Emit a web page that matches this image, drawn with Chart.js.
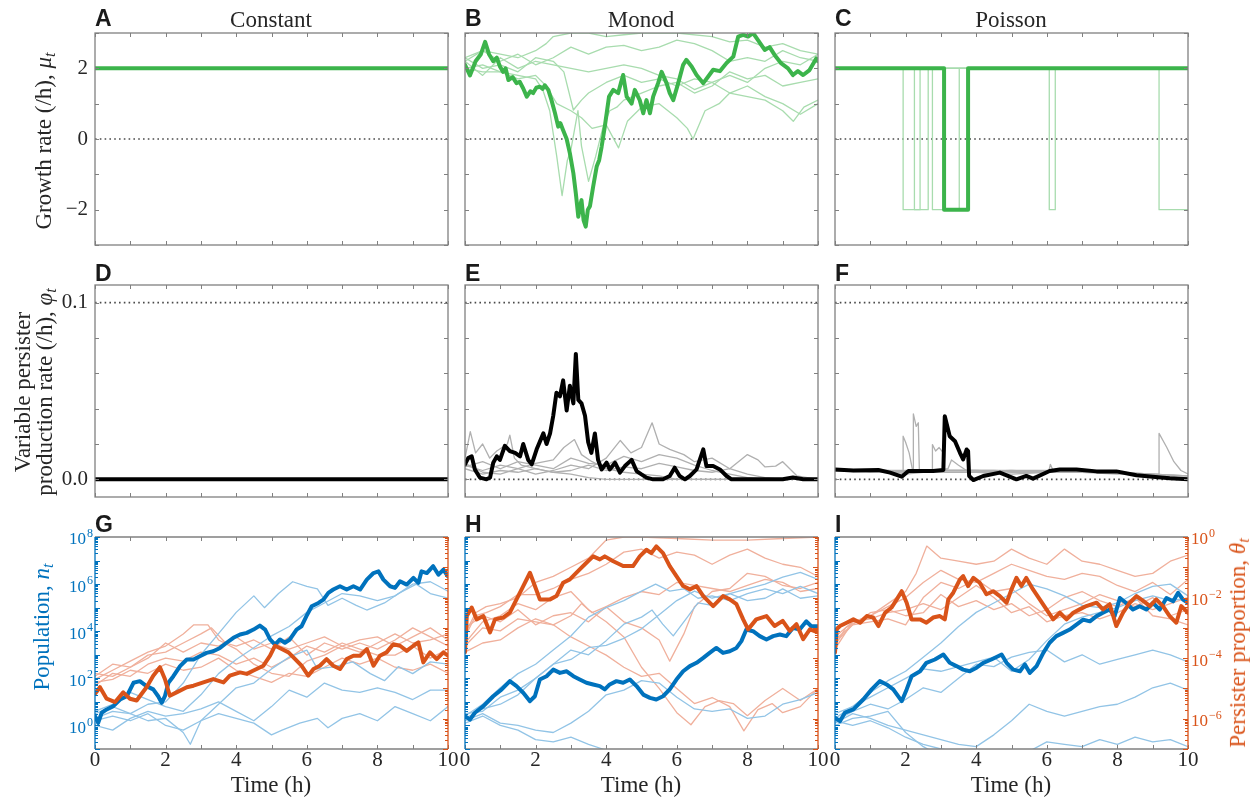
<!DOCTYPE html>
<html>
<head>
<meta charset="utf-8">
<script src="https://cdn.jsdelivr.net/npm/chart.js@4.4.1/dist/chart.umd.min.js"></script>
<style>
body{margin:0;background:#fff;width:1260px;height:801px;overflow:hidden;position:relative;font-family:"Liberation Serif",serif;color:#262626}
canvas{position:absolute;left:0;top:0}
.t{position:absolute;white-space:nowrap;font-size:23px;line-height:1}
.lt{position:absolute;font-family:"Liberation Sans",Arial,sans-serif;font-weight:bold;font-size:23px;color:#1a1a1a;line-height:1}
.rot{transform:translate(-50%,-50%) rotate(-90deg);text-align:center}
.ctr{transform:translateX(-50%)}
sub{font-size:70%;vertical-align:-0.25em}
</style>
</head>
<body>
<div class="lt" style="left:95px;top:7px">A</div>
<div class="lt" style="left:465px;top:7px">B</div>
<div class="lt" style="left:835px;top:7px">C</div>
<div class="lt" style="left:95px;top:262px">D</div>
<div class="lt" style="left:465px;top:262px">E</div>
<div class="lt" style="left:835px;top:262px">F</div>
<div class="lt" style="left:95px;top:513px">G</div>
<div class="lt" style="left:465px;top:513px">H</div>
<div class="lt" style="left:835px;top:513px">I</div>
<div class="t ctr" style="left:271px;top:8px">Constant</div>
<div class="t ctr" style="left:641px;top:8px">Monod</div>
<div class="t ctr" style="left:1011px;top:8px">Poisson</div>
<div class="t ctr" style="left:271px;top:773px">Time (h)</div>
<div class="t ctr" style="left:641px;top:773px">Time (h)</div>
<div class="t ctr" style="left:1011px;top:773px">Time (h)</div>
<div class="t rot" style="left:45px;top:141px">Growth rate (/h), <i>μ<sub>t</sub></i></div>
<div class="t rot" style="left:37px;top:392px;line-height:22px">Variable persister<br>production rate (/h), <i>φ<sub>t</sub></i></div>
<div class="t rot" style="left:43px;top:627px;color:#0072BD">Population, <i>n<sub>t</sub></i></div>
<div class="t rot" style="left:1239px;top:643px;color:#D95319">Persister proportion, <i>θ<sub>t</sub></i></div>

<script>
// ---- data (time in h) ----
const timeTicks = [0, 1, 2, 3, 4, 5, 6, 7, 8, 9, 10];
const timeLabels = [0, 2, 4, 6, 8, 10];
const muTicks = [-3, -2, -1, 0, 1, 2, 3];
const muLabels = [[-2, '\u22122'], [0, '0'], [2, '2']];
const phiTicks = [0, 0.02, 0.04, 0.06, 0.08, 0.1];
const phiLabels = [[0, '0.0'], [0.1, '0.1']];
const popLabelExp = [0, 2, 4, 6, 8];
const propLabelExp = [-6, -4, -2, 0];

// growth rate
const constMu = [[0, 2], [10, 2]];
const monodMuBold = [[0,2.1],[0.14,1.8],[0.3,2.2],[0.45,2.4],[0.57,2.75],[0.68,2.4],[0.8,2.2],[0.9,2.3],[0.99,2.05],[1.08,1.9],[1.15,2.0],[1.23,1.67],[1.35,1.75],[1.46,1.58],[1.55,1.62],[1.65,1.43],[1.75,1.2],[1.85,1.35],[1.93,1.3],[2.02,1.45],[2.12,1.48],[2.2,1.42],[2.26,1.52],[2.36,1.39],[2.45,1.1],[2.55,0.73],[2.64,0.35],[2.7,0.45],[2.78,0.25],[2.88,0.0],[2.97,-0.4],[3.07,-0.97],[3.14,-1.54],[3.21,-2.2],[3.26,-1.9],[3.3,-1.73],[3.36,-2.3],[3.42,-2.48],[3.48,-2.0],[3.54,-1.9],[3.63,-1.35],[3.73,-0.78],[3.8,-0.6],[3.87,-0.22],[3.96,0.35],[4.08,1.2],[4.2,1.39],[4.34,1.3],[4.42,1.6],[4.48,1.81],[4.58,1.2],[4.72,1.0],[4.81,1.39],[4.95,1.1],[5.05,0.73],[5.14,1.1],[5.24,0.73],[5.33,1.2],[5.47,1.58],[5.57,1.9],[5.71,1.58],[5.8,1.3],[5.9,1.1],[6.04,1.58],[6.18,2.1],[6.27,2.24],[6.42,2.05],[6.56,1.81],[6.75,1.58],[6.89,1.77],[7.03,1.96],[7.22,1.92],[7.41,2.15],[7.6,2.33],[7.74,2.9],[7.88,2.95],[8.02,2.9],[8.16,3.0],[8.3,2.8],[8.49,2.52],[8.63,2.6],[8.77,2.38],[8.96,2.14],[9.15,2.0],[9.29,1.81],[9.43,1.92],[9.58,1.81],[9.76,1.95],[9.95,2.28],[10,2.2]];
const monodMuFaint = [
  [[0,2.2],[0.5,2.5],[1,2.4],[1.5,2.3],[2,2.5],[2.3,2.7],[2.5,2.9],[3,3.0],[3.5,3.0],[4,2.9],[4.5,2.95],[5,3.0],[6,3.0],[7,2.9],[7.5,2.75],[8,2.8],[8.5,2.6],[9,2.7],[9.5,2.5],[10,2.4]],
  [[0,2.3],[0.5,2.5],[1,2.2],[1.5,2.4],[2,2.1],[2.5,2.3],[3,2.6],[3.5,2.4],[4,2.6],[4.5,2.65],[5,2.5],[5.5,2.6],[6,2.8],[6.5,2.7],[7,2.5],[7.5,2.2],[8,2.3],[8.5,2.2],[9,2.5],[9.5,2.3],[10,2.2]],
  [[0,2.0],[0.5,1.9],[1,1.9],[1.5,1.8],[2,1.7],[2.2,1.4],[2.4,0.8],[2.6,-0.5],[2.75,-1.6],[2.9,-0.6],[3.0,-0.3],[3.2,0.8],[3.3,-0.2],[3.5,-1.2],[3.7,-0.5],[3.9,0.3],[4.1,0.8],[4.3,0.9],[4.5,1.1],[5,1.3],[5.5,1.5],[6,1.6],[6.5,1.3],[7,1.5],[7.5,1.9],[8,1.7],[8.5,1.8],[9,1.5],[9.5,1.6],[10,1.7]],
  [[0,2.0],[0.5,2.1],[1,1.9],[1.5,1.7],[2,1.8],[2.3,1.5],[2.6,1.0],[3.0,0.8],[3.3,0.6],[3.6,0.3],[4.0,0.4],[4.35,-0.25],[4.6,0.5],[5.0,0.9],[5.5,1.0],[6.0,0.6],[6.3,0.3],[6.46,0.0],[6.8,0.8],[7.2,1.0],[7.5,1.3],[8,1.2],[8.5,1.1],[9,0.8],[9.3,0.5],[9.6,0.9],[10,1.1]],
  [[0,2.3],[0.5,2.0],[1,2.1],[1.5,1.9],[2,2.3],[2.5,2.2],[2.8,1.9],[3.07,0.82],[3.3,1.1],[3.5,1.3],[4,1.6],[4.5,1.8],[5,1.6],[5.5,1.7],[6,1.5],[6.5,1.7],[7,1.6],[7.5,1.3],[8,1.5],[8.5,1.2],[9,1.0],[9.5,0.7],[10,1.0]],
  [[0,2.2],[0.5,1.8],[1,2.3],[1.5,2.0],[2,2.2],[2.5,2.1],[3,2.0],[3.5,1.9],[4,2.0],[4.5,2.1],[5,2.0],[5.5,1.8],[6,1.7],[6.5,1.4],[7,1.6],[7.5,1.8],[8,1.6],[8.5,2.0],[9,2.2],[9.5,2.1],[10,2.4]]
];
const poissonMuBold = [[0,2],[3.09,-2],[3.77,2],[10,2]];
const poissonMuFaint = [
  [[0,2],[1.93,-2],[2.41,2],[10,2]],
  [[0,2],[2.25,-2],[2.64,2],[10,2]],
  [[0,2],[2.76,-2],[3.52,2],[10,2]],
  [[0,2],[6.07,-2],[6.24,2],[10,2]],
  [[0,2],[9.18,-2],[10,-2]],
  [[0,2],[10,2]]
];

// persister production rate
const constPhi = [[0, 0], [10, 0]];
const monodPhiBold = [[0,0.0085],[0.09,0.012],[0.19,0.013],[0.28,0.0056],[0.42,0.001],[0.61,0],[0.71,0.001],[0.8,0.0094],[0.9,0.013],[0.99,0.011],[1.13,0.019],[1.27,0.016],[1.42,0.015],[1.56,0.013],[1.65,0.02],[1.79,0.011],[1.89,0.0085],[2.03,0.017],[2.22,0.026],[2.31,0.02],[2.41,0.026],[2.5,0.036],[2.59,0.049],[2.69,0.047],[2.78,0.056],[2.88,0.039],[2.97,0.053],[3.07,0.043],[3.14,0.071],[3.21,0.045],[3.3,0.043],[3.4,0.036],[3.49,0.021],[3.58,0.015],[3.68,0.026],[3.77,0.011],[3.87,0.0056],[4.01,0.0094],[4.1,0.0056],[4.25,0.0094],[4.39,0.0038],[4.53,0.0075],[4.72,0.011],[4.86,0.0047],[5.0,0.0028],[5.14,0.001],[5.33,0],[5.61,0],[5.8,0.0019],[5.94,0.0066],[6.08,0.0019],[6.23,0],[6.37,0.0019],[6.56,0.0056],[6.75,0.017],[6.84,0.0075],[7.03,0.0075],[7.22,0.0056],[7.41,0.0019],[7.55,0],[9.0,0],[9.29,0.001],[9.58,0],[10,0]];
const monodPhiFaint = [
  [[0,0.012],[0.15,0.027],[0.3,0.015],[0.5,0.02],[0.7,0.012],[0.9,0.016],[1.2,0.02],[1.27,0.025],[1.4,0.012],[1.6,0.008],[2.0,0.006],[2.5,0.004],[3.0,0.003],[3.5,0.001],[4.0,0],[10,0]],
  [[0,0.008],[0.5,0.005],[1.0,0.008],[1.5,0.006],[2.0,0.009],[2.5,0.011],[2.8,0.018],[3.1,0.0225],[3.3,0.014],[3.6,0.01],[4.0,0.006],[4.5,0.004],[5,0.003],[5.5,0.002],[6,0],[10,0]],
  [[0,0.009],[0.5,0.004],[1,0.003],[1.5,0.006],[2,0.003],[2.5,0.005],[3,0.008],[3.5,0.006],[4,0.012],[4.4,0.022],[4.7,0.015],[5.0,0.018],[5.3,0.032],[5.5,0.02],[5.8,0.017],[6.2,0.014],[6.5,0.01],[7,0.012],[7.5,0.006],[8,0.014],[8.3,0.011],[8.5,0.007],[8.8,0.0075],[9,0.01],[9.2,0.006],[9.4,0.002],[10,0]],
  [[0,0.007],[0.5,0.01],[1,0.006],[1.5,0.01],[2,0.008],[2.5,0.006],[3,0.012],[3.5,0.009],[4,0.008],[4.5,0.013],[5,0.01],[5.5,0.014],[6,0.012],[6.5,0.008],[7,0.005],[7.5,0.003],[8,0.001],[8.5,0],[10,0]],
  [[0,0.006],[0.5,0.003],[1,0.005],[1.5,0.004],[2,0.006],[2.5,0.004],[3,0.005],[3.5,0.008],[4,0.005],[4.5,0.007],[5,0.006],[5.5,0.009],[6,0.007],[6.5,0.005],[7,0.004],[7.5,0.006],[8,0.003],[8.5,0.001],[9,0],[10,0]]
];
const poissonPhiBold = [[0,0.0056],[0.52,0.005],[1.23,0.0053],[1.56,0.0038],[1.89,0.0015],[2.08,0.0047],[2.41,0.0047],[2.78,0.0047],[3.07,0.0053],[3.11,0.0357],[3.25,0.0244],[3.4,0.0216],[3.54,0.015],[3.63,0.0113],[3.73,0.0169],[3.77,0.016],[3.8,0.0019],[3.92,-0.0004],[4.2,0.0019],[4.67,0.0038],[5.14,0],[5.42,0.0019],[5.61,0.0004],[6.08,0.0047],[6.37,0.0056],[6.84,0.0056],[7.41,0.0045],[7.97,0.0045],[8.54,0.0023],[9.0,0.0015],[9.48,0.0006],[10,0]];
const poissonPhiFaint = [
  [[0,0.005],[1.0,0.005],[1.93,0.005],[1.93,0.0244],[2.0,0.021],[2.1,0.015],[2.2,0.005],[3,0.004],[4,0.004],[5,0.003],[6,0.004],[7,0.004],[8,0.004],[9,0.003],[10,0.002]],
  [[0,0.005],[2.22,0.004],[2.22,0.037],[2.3,0.03],[2.36,0.032],[2.39,0.005],[3,0.005],[3.5,0.005],[4.5,0.005],[5.5,0.004],[6.5,0.004],[7.5,0.004],[8.5,0.003],[10,0.002]],
  [[0,0.005],[2.76,0.004],[2.76,0.0197],[2.85,0.016],[2.95,0.018],[3.07,0.015],[3.08,0.005],[4,0.005],[5,0.004],[6.05,0.004],[6.1,0.0085],[6.2,0.004],[7,0.004],[8,0.003],[9,0.003],[10,0.002]],
  [[0,0.005],[1.5,0.005],[2.0,0.003],[2.5,0.004],[3.2,0.006],[3.3,0.011],[3.5,0.008],[3.8,0.004],[5,0.005],[6,0.005],[7,0.004],[8,0.004],[9,0.003],[9.18,0.003],[9.18,0.026],[9.4,0.018],[9.6,0.01],[9.8,0.005],[10,0.003]],
  [[0,0.005],[1,0.004],[2,0.005],[3,0.005],[4,0.005],[5,0.005],[6,0.004],[7,0.005],[8,0.004],[9,0.002],[10,0.001]]
];

// population (log10 n) and persister proportion (log10 theta)
const constPopBold = [[0,0.4],[0.09,0.11],[0.19,0.54],[0.33,0.68],[0.52,0.82],[0.71,1.1],[0.9,1.24],[1.09,1.81],[1.27,1.88],[1.46,1.67],[1.65,1.53],[1.79,1.24],[1.89,0.96],[1.98,1.24],[2.08,1.81],[2.22,2.09],[2.41,2.52],[2.6,2.8],[2.79,2.8],[2.97,2.94],[3.16,3.08],[3.35,3.15],[3.54,3.29],[3.73,3.51],[3.92,3.72],[4.11,3.86],[4.3,3.93],[4.49,4.07],[4.67,4.24],[4.82,4.07],[4.96,3.65],[5.1,3.43],[5.24,3.65],[5.38,3.51],[5.52,3.65],[5.71,4.07],[5.85,4.21],[5.99,4.64],[6.14,5.06],[6.33,5.2],[6.47,5.34],[6.61,5.63],[6.75,5.77],[6.94,5.91],[7.13,5.77],[7.32,5.91],[7.51,5.77],[7.7,6.19],[7.89,6.47],[8.03,6.54],[8.17,6.19],[8.36,5.91],[8.5,5.84],[8.64,6.12],[8.83,5.98],[9.02,6.26],[9.16,6.05],[9.25,6.54],[9.4,6.47],[9.58,6.76],[9.73,6.4],[9.87,6.61],[10,6.33]];
const constPopFaint = [
  [[0,0.3],[0.5,0.6],[1,0.5],[1.5,0.9],[2,1.0],[2.5,1.8],[3,3.0],[3.5,3.9],[4,4.8],[4.5,5.5],[4.8,5.0],[5.2,5.6],[5.6,6.1],[6,5.9],[6.3,5.8],[6.6,5.1],[7,5.4],[7.4,5.1],[7.7,4.9],[8.2,5.2],[8.6,5.6],[9.1,6.0],[9.5,5.6],[10,5.4]],
  [[0,0.6],[0.5,0.9],[1,1.4],[1.5,1.1],[2,0.8],[2.5,0.6],[3,1.3],[3.5,2.2],[4,2.8],[4.5,3.3],[5,3.8],[5.5,4.2],[6,4.8],[6.5,5.2],[7,5.6],[7.5,5.5],[8,5.3],[8.5,5.5],[9,6.0],[9.5,6.1],[10,5.7]],
  [[0,0.5],[0.5,0.8],[1,0.5],[1.5,0.2],[2,0.3],[2.5,-0.3],[2.7,-0.8],[3,0.2],[3.5,0.9],[4,1.6],[4.5,1.8],[5,2.4],[5.5,2.9],[6,3.2],[6.3,2.4],[6.8,2.5],[7.3,2.7],[7.8,2.2],[8.2,1.9],[8.6,2.5],[9,2.2],[9.5,2.7],[10,2.6]],
  [[0,0.2],[0.5,0.4],[1,0.2],[1.5,0.5],[2,0.0],[2.5,-0.2],[3,0.2],[3.5,0.5],[4,0.3],[4.5,0.1],[5,-0.4],[5.3,-0.2],[5.8,0.1],[6.3,0.3],[6.6,-0.1],[7,0.3],[7.5,0.5],[8,0.2],[8.5,0.8],[9,0.5],[9.5,0.2],[10,0.8]],
  [[0,0.0],[0.5,-0.2],[1,0.3],[1.5,0.6],[2,0.4],[2.5,0.5],[3,0.7],[3.5,1.0],[4,0.6],[4.5,0.2],[5,0.8],[5.5,1.5],[6,1.2],[6.5,1.8],[7,1.5],[7.5,1.4],[8,1.6],[8.5,1.4],[9,1.1],[9.5,1.5],[10,1.5]]
];
const constPropBold = [[0,-5.18],[0.14,-4.96],[0.33,-5.34],[0.57,-5.45],[0.8,-5.13],[0.99,-5.34],[1.18,-5.4],[1.46,-4.96],[1.65,-4.58],[1.84,-4.3],[1.98,-4.69],[2.12,-5.24],[2.31,-5.13],[2.6,-4.96],[2.79,-4.91],[3.07,-4.8],[3.35,-4.69],[3.64,-4.8],[3.82,-4.58],[4.11,-4.47],[4.3,-4.52],[4.49,-4.41],[4.77,-4.25],[4.96,-3.92],[5.1,-3.59],[5.29,-3.7],[5.48,-3.81],[5.67,-4.03],[5.85,-4.25],[6.04,-4.58],[6.19,-4.36],[6.37,-4.25],[6.56,-4.03],[6.75,-4.25],[6.94,-4.36],[7.13,-4.03],[7.32,-3.92],[7.51,-3.92],[7.7,-3.7],[7.89,-4.25],[8.07,-3.92],[8.26,-3.81],[8.45,-3.54],[8.64,-3.59],[8.83,-3.76],[9.02,-3.59],[9.16,-3.48],[9.3,-4.14],[9.49,-3.81],[9.68,-4.03],[9.87,-3.81],[10,-3.92]];
const constPropFaint = [
  [[0,-4.7],[0.5,-4.4],[1,-4.1],[1.5,-3.8],[2,-3.6],[2.5,-3.2],[2.8,-2.9],[3.2,-2.9],[3.5,-3.4],[4,-3.7],[4.5,-4.2],[5,-4.5],[5.5,-4.6],[6,-4.1],[6.5,-3.9],[7,-3.6],[7.5,-3.4],[8,-3.3],[8.5,-3.6],[9,-3.3],[9.5,-3.0],[10,-3.4]],
  [[0,-4.5],[0.5,-4.6],[1,-4.3],[1.5,-4.0],[2,-3.5],[2.5,-3.8],[3,-3.5],[3.5,-3.6],[4,-3.3],[4.5,-3.7],[5,-3.5],[5.5,-3.7],[6,-3.5],[6.5,-3.3],[7,-3.6],[7.5,-3.8],[8,-3.5],[8.5,-3.2],[9,-3.5],[9.5,-3.4],[10,-3.2]],
  [[0,-4.9],[0.5,-4.5],[1,-4.6],[1.5,-4.2],[2,-4.0],[2.5,-4.1],[3,-3.8],[3.5,-3.9],[4,-4.2],[4.5,-4.0],[5,-4.3],[5.5,-4.0],[6,-3.6],[6.5,-3.8],[7,-3.5],[7.5,-3.7],[8,-3.9],[8.5,-3.9],[9,-3.6],[9.5,-4.0],[10,-3.7]],
  [[0,-4.8],[0.5,-4.7],[1,-4.4],[1.5,-4.5],[2,-4.2],[2.5,-4.4],[3,-4.3],[3.5,-4.0],[4,-4.4],[4.5,-4.6],[5,-4.8],[5.5,-4.5],[6,-4.6],[6.5,-4.3],[7,-4.0],[7.5,-4.2],[8,-4.0],[8.5,-4.3],[9,-4.4],[9.5,-4.2],[10,-4.5]],
  [[0,-4.6],[0.5,-4.2],[1,-4.3],[1.5,-3.9],[2,-3.8],[2.5,-3.5],[3,-3.2],[3.3,-3.0],[3.7,-3.5],[4,-3.6],[4.5,-3.4],[5,-3.7],[5.5,-3.3],[6,-3.9],[6.5,-3.5],[7,-3.7],[7.5,-3.5],[8,-3.7],[8.5,-3.4],[9,-3.0],[9.5,-3.3],[10,-3.6]]
];

const monodPopBold = [[0,0.4],[0.14,0.25],[0.28,0.54],[0.52,0.82],[0.8,1.24],[1.04,1.53],[1.27,1.88],[1.46,1.67],[1.65,1.39],[1.84,1.03],[1.98,1.24],[2.12,1.95],[2.31,2.09],[2.5,2.37],[2.69,2.23],[2.88,2.3],[3.07,2.09],[3.25,1.95],[3.44,1.81],[3.63,1.74],[3.82,1.67],[3.96,1.53],[4.1,1.74],[4.29,1.88],[4.48,1.81],[4.67,1.95],[4.86,1.67],[5.05,1.31],[5.24,1.17],[5.42,1.1],[5.61,1.24],[5.8,1.53],[5.99,1.95],[6.18,2.3],[6.37,2.52],[6.56,2.66],[6.75,2.87],[6.93,3.08],[7.12,3.29],[7.31,3.08],[7.5,3.15],[7.69,3.29],[7.83,3.58],[7.97,4.07],[8.16,4.0],[8.35,3.79],[8.54,3.65],[8.73,3.79],[8.92,3.86],[9.1,3.79],[9.29,4.14],[9.48,4.07],[9.67,4.42],[9.81,4.21],[10,4.21]];
const monodPopFaint = [
  [[0,0.4],[0.5,0.9],[1,1.6],[1.5,2.2],[2,2.6],[2.5,3.2],[3,3.8],[3.5,4.6],[4,5.0],[4.5,5.3],[5,5.7],[5.4,6.0],[5.8,5.7],[6.2,5.8],[6.6,5.4],[7,5.5],[7.5,5.3],[8,5.6],[8.5,5.8],[9,5.6],[9.5,5.9],[10,5.6]],
  [[0,0.5],[0.5,0.6],[1,1.2],[1.5,1.5],[2,2.0],[2.5,2.6],[3,2.8],[3.5,3.3],[4,3.4],[4.5,3.7],[5,4.1],[5.5,4.7],[6,5.3],[6.5,5.7],[7,5.4],[7.5,5.6],[8,5.8],[8.5,6.0],[9,6.3],[9.5,6.5],[10,6.2]],
  [[0,0.3],[0.5,0.7],[1,0.9],[1.5,1.3],[2,2.0],[2.5,2.6],[3,3.2],[3.5,3.0],[4,3.6],[4.5,4.3],[5,4.6],[5.3,4.9],[5.6,4.3],[5.9,3.8],[6.3,4.6],[6.6,5.2],[7,5.1],[7.5,5.6],[8,5.3],[8.5,5.4],[9,5.8],[9.5,5.4],[10,5.5]],
  [[0,0.1],[0.5,0.4],[1,0.0],[1.5,-0.2],[2,-0.6],[2.5,-0.7],[3,-0.5],[3.5,-0.8],[3.9,-1.0],[4.5,-1.5],[10,-3]],
  [[0,0.2],[0.5,0.5],[1,0.1],[1.5,0.0],[2,-0.2],[2.5,-0.3],[3,0.1],[3.5,0.6],[4,1.3],[4.5,1.5],[5,1.9],[5.5,1.8],[6,1.2],[6.5,0.7],[7,0.6],[7.5,0.7],[8,0.3],[8.5,0.4],[9,0.9],[9.5,1.1],[10,1.4]]
];
const monodPropBold = [[0,-3.8],[0.05,-2.61],[0.19,-2.33],[0.33,-2.72],[0.52,-2.61],[0.71,-3.15],[0.85,-2.72],[1.08,-2.66],[1.27,-2.5],[1.46,-2.06],[1.65,-1.62],[1.84,-1.18],[1.98,-1.62],[2.12,-2.06],[2.41,-2.06],[2.59,-1.95],[2.78,-1.51],[2.97,-1.4],[3.25,-1.07],[3.44,-0.85],[3.63,-0.64],[3.82,-0.74],[3.96,-0.64],[4.2,-0.8],[4.48,-0.96],[4.76,-0.96],[4.95,-0.64],[5.14,-0.42],[5.28,-0.53],[5.42,-0.31],[5.61,-0.53],[5.8,-0.96],[5.99,-1.29],[6.18,-1.62],[6.37,-1.73],[6.56,-1.62],[6.75,-1.95],[7.03,-2.28],[7.31,-1.95],[7.5,-2.06],[7.69,-2.22],[7.88,-2.72],[8.02,-3.05],[8.25,-2.72],[8.54,-2.61],[8.77,-2.94],[9.0,-2.77],[9.2,-3.1],[9.39,-2.88],[9.58,-3.37],[9.77,-3.05],[10,-3.15]];
const monodPropFaint = [
  [[0,-3.2],[0.3,-2.5],[0.6,-2.3],[1,-2.2],[1.5,-2.0],[2,-1.5],[2.5,-1.3],[3,-1.0],[3.5,-0.7],[4,-0.1],[4.5,0.0],[5,0.0],[6,-0.05],[7,-0.1],[8,-0.1],[9,-0.05],[10,0.0]],
  [[0,-3.3],[0.3,-2.6],[0.6,-2.5],[1,-2.3],[1.5,-1.9],[2,-1.9],[2.5,-1.7],[3,-1.4],[3.5,-1.2],[4,-0.9],[4.5,-0.5],[5,-0.4],[5.5,-0.7],[6,-0.5],[6.5,-0.6],[7,-0.9],[7.5,-0.6],[8,-0.4],[8.5,-0.7],[9,-0.9],[9.5,-1.0],[10,-1.3]],
  [[0,-3.5],[0.5,-2.8],[1,-2.6],[1.5,-2.2],[2,-2.4],[2.5,-2.0],[3,-1.8],[3.5,-2.4],[4,-2.8],[4.5,-3.3],[5,-4.3],[5.5,-5.0],[6,-5.8],[6.4,-6.2],[6.8,-5.6],[7.2,-5.4],[7.6,-5.5],[8,-5.9],[8.5,-5.4],[9,-5.0],[9.5,-5.4],[10,-5.0]],
  [[0,-3.0],[0.5,-2.6],[1,-2.8],[1.5,-2.4],[2,-2.9],[2.5,-2.6],[3,-2.5],[3.5,-2.8],[4,-2.3],[4.5,-2.8],[5,-3.0],[5.5,-3.4],[5.8,-4.1],[6.2,-3.2],[6.5,-2.3],[7,-1.8],[7.5,-1.7],[8,-1.2],[8.5,-1.3],[9,-1.6],[9.5,-1.7],[10,-1.5]],
  [[0,-3.8],[0.5,-3.5],[1,-3.4],[1.5,-3.0],[2,-2.7],[2.5,-2.9],[3,-2.6],[3.3,-2.2],[3.6,-2.5],[4,-2.3],[4.5,-2.0],[5,-1.8],[5.5,-1.9],[6,-1.5],[6.5,-1.6],[7,-1.7],[7.5,-1.8],[8,-1.6],[8.5,-1.4],[9,-1.5],[9.5,-1.8],[10,-1.7]],
  [[0,-3.6],[0.5,-3.0],[1,-3.1],[1.5,-2.7],[2,-2.8],[2.5,-2.9],[3,-3.3],[3.5,-3.6],[4,-3.9],[4.5,-4.3],[5,-4.6],[5.5,-4.5],[6,-5.0],[6.5,-5.5],[7,-5.3],[7.5,-5.6],[7.9,-6.4],[8.3,-5.7],[8.7,-5.5],[9,-5.8],[9.5,-5.6],[10,-5.0]]
];

const poissonPopBold = [[0,0.33],[0.14,0.18],[0.28,0.54],[0.52,0.68],[0.8,1.1],[1.04,1.53],[1.27,1.88],[1.46,1.74],[1.65,1.53],[1.89,1.03],[2.03,1.53],[2.17,2.09],[2.41,2.3],[2.59,2.66],[2.83,2.8],[3.07,3.01],[3.25,2.66],[3.44,2.52],[3.63,2.37],[3.82,2.3],[4.01,2.45],[4.2,2.66],[4.43,2.8],[4.72,3.01],[4.86,2.66],[5.05,2.37],[5.24,2.3],[5.38,2.59],[5.52,2.23],[5.71,2.52],[5.9,3.08],[6.08,3.51],[6.27,3.79],[6.46,3.93],[6.65,4.07],[6.84,4.28],[7.03,4.49],[7.22,4.42],[7.41,4.64],[7.59,4.78],[7.78,4.92],[7.92,4.64],[8.07,5.41],[8.25,5.2],[8.44,4.92],[8.63,5.06],[8.82,4.92],[9.01,5.2],[9.2,4.92],[9.39,5.41],[9.58,5.27],[9.72,5.63],[9.86,5.34],[10,5.2]];
const poissonPopFaint = [
  [[0,0.3],[0.5,0.8],[1,1.4],[1.5,1.9],[2,2.3],[2.5,2.9],[3,3.5],[3.5,4.2],[4,4.8],[4.5,5.2],[5,5.6],[5.5,6.0],[6,5.8],[6.5,5.5],[7,5.1],[7.5,5.0],[8,5.2],[8.5,5.6],[9,5.9],[9.5,6.0],[10,5.5]],
  [[0,0.5],[0.5,0.8],[1,1.2],[1.5,1.6],[2,2.0],[2.5,2.4],[3,2.3],[3.5,2.5],[4,2.7],[4.5,2.9],[5,2.3],[5.5,2.8],[6,3.6],[6.5,4.3],[7,4.6],[7.5,4.8],[8,5.0],[8.5,5.3],[9,5.5],[9.5,5.3],[10,5.4]],
  [[0,0.2],[0.5,0.6],[1,0.9],[1.5,0.7],[2,1.1],[2.5,1.6],[3,1.4],[3.5,2.0],[4,2.6],[4.5,2.5],[5,2.9],[5.5,3.1],[6,3.2],[6.5,2.7],[7,3.0],[7.5,2.6],[8,2.8],[8.5,3.0],[9,3.2],[9.5,3.0],[10,2.7]],
  [[0,0.1],[0.5,0.5],[1,0.3],[1.5,0.0],[2,-0.2],[2.5,-0.4],[3,-0.6],[3.5,-0.8],[4,-0.9],[4.5,-0.4],[5,0.2],[5.5,0.9],[6,0.6],[6.5,0.4],[7,0.6],[7.5,0.8],[8,0.9],[8.5,1.2],[9,1.6],[9.5,1.8],[10,1.5]],
  [[0,0.0],[0.5,0.3],[1,0.4],[1.5,0.6],[2,-0.3],[2.5,-0.9],[3,-1.3],[10,-2]],
  [[0,0.2],[0.5,0.0],[1,0.2],[1.5,-0.1],[2,-0.5],[2.5,-0.8],[3,-1.0],[3.5,-1.1],[4,-1.3],[5.5,-1.1],[6,-0.7],[6.5,-0.8],[7,-0.9],[7.5,-0.6],[8,-0.8],[8.5,-0.5],[9,-0.7],[9.5,-0.6],[10,-0.9]]
];
const poissonPropBold = [[0,-3.81],[0.05,-3.04],[0.14,-2.94],[0.33,-2.83],[0.52,-2.72],[0.71,-2.83],[0.9,-2.61],[1.08,-2.66],[1.23,-2.94],[1.42,-2.5],[1.6,-2.33],[1.75,-2.06],[1.89,-1.79],[2.03,-2.17],[2.17,-2.72],[2.41,-2.72],[2.59,-2.83],[2.78,-2.66],[2.97,-2.61],[3.11,-2.72],[3.21,-2.06],[3.35,-1.84],[3.54,-1.4],[3.63,-1.29],[3.77,-1.62],[3.92,-1.35],[4.1,-1.51],[4.29,-1.89],[4.48,-1.79],[4.67,-1.95],[4.86,-2.17],[5.0,-1.73],[5.14,-1.35],[5.28,-1.62],[5.42,-1.35],[5.61,-1.73],[5.8,-2.06],[5.99,-2.39],[6.18,-2.72],[6.37,-2.5],[6.56,-2.72],[6.75,-2.5],[6.93,-2.39],[7.12,-2.28],[7.41,-2.17],[7.59,-2.39],[7.78,-2.22],[7.97,-2.94],[8.16,-2.5],[8.35,-2.17],[8.54,-1.95],[8.73,-2.11],[8.92,-2.28],[9.1,-2.06],[9.29,-2.28],[9.48,-2.61],[9.67,-2.83],[9.81,-2.28],[10,-2.5]];
const poissonPropFaint = [
  [[0,-3.6],[0.3,-3.0],[0.6,-2.8],[1,-2.6],[1.5,-2.2],[2,-1.8],[2.3,-1.2],[2.6,-0.3],[3,-0.7],[3.5,-0.8],[4,-0.9],[4.5,-0.8],[5,-0.4],[5.5,-0.7],[6,-0.9],[6.5,-0.4],[7,-0.8],[7.5,-0.9],[8,-1.1],[8.5,-1.3],[9,-1.2],[9.5,-0.8],[10,-0.6]],
  [[0,-3.3],[0.5,-2.8],[1,-2.6],[1.5,-2.3],[2,-2.0],[2.5,-1.5],[3,-1.1],[3.5,-1.4],[4,-1.5],[4.5,-1.2],[5,-0.9],[5.5,-1.1],[6,-1.3],[6.5,-1.4],[7,-1.2],[7.5,-1.3],[8,-1.6],[8.5,-1.8],[9,-1.5],[9.5,-1.9],[10,-1.4]],
  [[0,-3.5],[0.5,-2.9],[1,-2.8],[1.5,-2.7],[2,-2.9],[2.5,-2.0],[3,-1.5],[3.5,-1.7],[4,-1.4],[4.5,-1.8],[5,-1.7],[5.5,-2.2],[6,-2.6],[6.5,-2.4],[7,-2.2],[7.5,-1.9],[8,-2.1],[8.5,-2.3],[9,-2.0],[9.5,-2.6],[10,-2.4]],
  [[0,-3.4],[0.5,-2.9],[1,-2.5],[1.5,-2.4],[2,-2.6],[2.5,-2.5],[3,-1.9],[3.5,-2.3],[4,-2.1],[4.5,-2.4],[5,-2.2],[5.5,-2.6],[6,-2.4],[6.5,-2.0],[7,-1.8],[7.5,-2.1],[8,-2.3],[8.5,-2.0],[9,-2.6],[9.5,-2.7],[10,-2.9]],
  [[0,-3.7],[0.5,-2.8],[1,-2.7],[1.5,-2.5],[2,-2.4],[2.5,-2.2],[3,-2.4],[3.5,-2.0],[4,-1.6],[4.5,-2.0],[5,-2.5],[5.5,-2.3],[6,-2.8],[6.5,-2.6],[7,-2.5],[7.5,-2.7],[8,-2.5],[8.5,-2.2],[9,-2.4],[9.5,-2.2],[10,-2.0]]
];

// ---- styling / layout ----
const TXT = '#262626', AX = '#808080', BLUE = '#0072BD', ORANGE = '#D95319';
const GREEN = '#3cb44b', GREEN_L = '#a8dcae';
const BLACK = '#000000', GREY_L = '#b0b0b0';
const BLUE_L = '#92c4e6', ORANGE_L = '#f0b09c';
const colX = [95, 465, 835], rowY = [33, 285, 537], PW = 353, PH = 212;
const FONT = '"Liberation Serif", "Times New Roman", serif';

function tick(ctx, x1, y1, x2, y2) { ctx.moveTo(x1, y1); ctx.lineTo(x2, y2); }

function powLabel(ctx, e, xEdge, py, align, color) {
  const ex = e < 0 ? '\u2212' + (-e) : String(e);
  ctx.font = '17px ' + FONT; const wb = ctx.measureText('10').width;
  ctx.font = '12px ' + FONT; const we = ctx.measureText(ex).width;
  const x0 = align === 'right' ? xEdge - wb - we - 1 : xEdge;
  ctx.fillStyle = color; ctx.textAlign = 'left'; ctx.textBaseline = 'middle';
  ctx.font = '17px ' + FONT; ctx.fillText('10', x0, py + 3);
  ctx.font = '12px ' + FONT; ctx.fillText(ex, x0 + wb + 1, py - 3);
}

function logTicks(ctx, scale, lo, hi, xEdge, dir) {
  for (let n = lo; n < hi; n++) {
    for (let k = 1; k <= 9; k++) {
      const py = Math.round(scale.getPixelForValue(k * Math.pow(10, n))) + 0.5;
      tick(ctx, xEdge, py, xEdge + dir * (k === 1 ? 5 : 3), py);
    }
  }
  const py = Math.round(scale.getPixelForValue(Math.pow(10, hi))) + 0.5;
  tick(ctx, xEdge, py, xEdge + dir * 5, py);
}

const framePlugin = {
  id: 'frame',
  afterDatasetsDraw(chart, args, o) {
    const {ctx, chartArea: a} = chart;
    const sx = chart.scales.x, sy = chart.scales.y, sy2 = chart.scales.y2;
    ctx.save();
    ctx.lineWidth = 1;
    ctx.strokeStyle = AX;
    ctx.beginPath();
    timeTicks.forEach(t => {
      const px = Math.round(sx.getPixelForValue(t)) + 0.5;
      tick(ctx, px, a.bottom, px, a.bottom - 4);
      tick(ctx, px, a.top, px, a.top + 4);
    });
    ctx.stroke();
    if (o.xLabels) {
      ctx.fillStyle = TXT; ctx.font = '21px ' + FONT;
      ctx.textAlign = 'center'; ctx.textBaseline = 'middle';
      timeLabels.forEach(t => ctx.fillText(String(t), sx.getPixelForValue(t), a.bottom + 11));
    }
    if (o.kind === 'lin') {
      ctx.beginPath();
      o.ticks.forEach(v => {
        const py = Math.round(sy.getPixelForValue(v)) + 0.5;
        tick(ctx, a.left, py, a.left + 4, py);
        tick(ctx, a.right, py, a.right - 4, py);
      });
      ctx.stroke();
      ctx.lineWidth = 1.3;
      ctx.strokeRect(a.left, a.top, a.right - a.left, a.bottom - a.top);
      if (o.yLabels) {
        ctx.fillStyle = TXT; ctx.font = '21px ' + FONT;
        ctx.textAlign = 'right'; ctx.textBaseline = 'middle';
        o.labels.forEach(([v, s]) => ctx.fillText(s, a.left - 7, sy.getPixelForValue(v)));
      }
    } else {
      ctx.lineWidth = 1.3;
      ctx.beginPath(); tick(ctx, a.left, a.top, a.right, a.top); tick(ctx, a.left, a.bottom, a.right, a.bottom); ctx.stroke();
      ctx.strokeStyle = BLUE;
      ctx.beginPath(); tick(ctx, a.left, a.top, a.left, a.bottom); ctx.stroke();
      ctx.lineWidth = 1;
      ctx.beginPath(); logTicks(ctx, sy, -1, 8, a.left, 1); ctx.stroke();
      ctx.strokeStyle = ORANGE; ctx.lineWidth = 1.3;
      ctx.beginPath(); tick(ctx, a.right, a.top, a.right, a.bottom); ctx.stroke();
      ctx.lineWidth = 1;
      ctx.beginPath(); logTicks(ctx, sy2, -7, 0, a.right, -1); ctx.stroke();
      if (o.yLabels) popLabelExp.forEach(e => powLabel(ctx, e, a.left - 2, sy.getPixelForValue(Math.pow(10, e)), 'right', BLUE));
      if (o.y2Labels) propLabelExp.forEach(e => powLabel(ctx, e, a.right + 3, sy2.getPixelForValue(Math.pow(10, e)), 'left', ORANGE));
    }
    ctx.restore();
  }
};

function line(data, color, width, extra) {
  return Object.assign({
    data: data.map(([x, y]) => ({x, y})),
    borderColor: color, borderWidth: width, pointRadius: 0, fill: false, tension: 0,
    borderJoinStyle: 'round', borderCapStyle: 'round'
  }, extra || {});
}
function logLine(data, color, width, axis) {
  return line(data.map(([x, v]) => [x, Math.pow(10, v)]), color, width, {yAxisID: axis});
}
function dotted(v) {
  return line([[0, v], [10, v]], '#4a4a4a', 1.6, {borderDash: [1.6, 3.2], borderCapStyle: 'butt'});
}

function panel(col, row, datasets, frame) {
  const cv = document.createElement('canvas');
  cv.width = 1260; cv.height = 801;
  document.body.insertBefore(cv, document.body.firstChild);
  const left = colX[col], top = rowY[row];
  const scales = {x: {type: 'linear', min: 0, max: 10, display: false}};
  if (row === 0) scales.y = {type: 'linear', min: -3, max: 3, display: false};
  if (row === 1) scales.y = {type: 'linear', min: -0.01, max: 0.11, display: false};
  if (row === 2) {
    scales.y = {type: 'logarithmic', min: 0.1, max: 1e8, display: false};
    scales.y2 = {type: 'logarithmic', min: 1e-7, max: 1, display: false, position: 'right'};
  }
  new Chart(cv, {
    type: 'line',
    data: {datasets},
    options: {
      responsive: false, animation: false, events: [],
      layout: {padding: {left, top, right: 1260 - left - PW, bottom: 801 - top - PH}},
      plugins: {legend: {display: false}, tooltip: {enabled: false}, frame},
      scales
    },
    plugins: [framePlugin]
  });
}

const muFrame = c => ({kind: 'lin', ticks: muTicks, labels: muLabels, yLabels: c === 0});
const phiFrame = c => ({kind: 'lin', ticks: phiTicks, labels: phiLabels, yLabels: c === 0});
const logFrame = c => ({kind: 'log', xLabels: true, yLabels: c === 0, y2Labels: c === 2});

// row 1: growth rate
panel(0, 0, [line(constMu, GREEN, 4), dotted(0)], muFrame(0));
panel(1, 0, [line(monodMuBold, GREEN, 4), ...monodMuFaint.map(d => line(d, GREEN_L, 1.3)), dotted(0)], muFrame(1));
panel(2, 0, [line(poissonMuBold, GREEN, 4, {stepped: true}), ...poissonMuFaint.map(d => line(d, GREEN_L, 1.3, {stepped: true})), dotted(0)], muFrame(2));

// row 2: persister production rate
panel(0, 1, [line(constPhi, BLACK, 4), dotted(0), dotted(0.1)], phiFrame(0));
panel(1, 1, [line(monodPhiBold, BLACK, 4), ...monodPhiFaint.map(d => line(d, GREY_L, 1.3)), dotted(0), dotted(0.1)], phiFrame(1));
panel(2, 1, [line(poissonPhiBold, BLACK, 4), ...poissonPhiFaint.map(d => line(d, GREY_L, 1.3)), dotted(0), dotted(0.1)], phiFrame(2));

// row 3: population and persister proportion
const popPanel = (c, popB, popF, propB, propF) => panel(c, 2, [
  logLine(propB, ORANGE, 4, 'y2'), logLine(popB, BLUE, 4, 'y'),
  ...popF.map(d => logLine(d, BLUE_L, 1.3, 'y')),
  ...propF.map(d => logLine(d, ORANGE_L, 1.3, 'y2'))
], logFrame(c));
popPanel(0, constPopBold, constPopFaint, constPropBold, constPropFaint);
popPanel(1, monodPopBold, monodPopFaint, monodPropBold, monodPropFaint);
popPanel(2, poissonPopBold, poissonPopFaint, poissonPropBold, poissonPropFaint);
</script>
</body>
</html>
